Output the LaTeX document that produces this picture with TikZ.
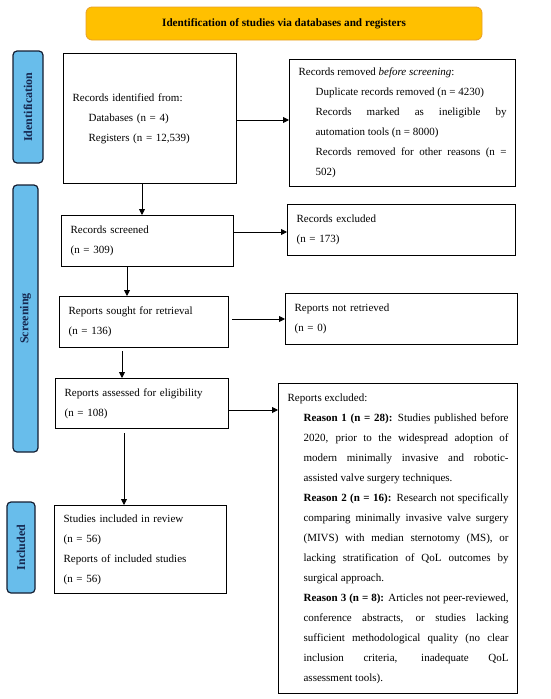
\documentclass[tikz,border=0pt]{standalone}
\usepackage{fontspec}
\setmainfont{Liberation Serif}
\usetikzlibrary{arrows.meta}
\setlength\parindent{0pt}
\definecolor{sideblue}{RGB}{104,189,235}
\definecolor{sidetext}{RGB}{22,40,80}
\definecolor{sideedge}{RGB}{20,30,50}
\definecolor{titlefill}{RGB}{255,192,0}
\definecolor{titledraw}{RGB}{232,160,40}
\begin{document}
\begin{tikzpicture}[x=1pt,y=-1pt,
  box/.style={draw=black, line width=1.2pt, anchor=north west, inner xsep=9pt, inner ysep=0pt,
    font=\fontsize{11}{20}\selectfont, align=left},
  jbox/.style={box, align=justify},
  side/.style={draw=sideedge, fill=sideblue, line width=1.2pt, rounded corners=4pt, rotate=90,
    inner sep=0pt, font=\fontsize{12}{13}\selectfont\bfseries, text=sidetext},
  titlebox/.style={draw=titledraw, fill=titlefill, line width=0.8pt, rounded corners=6pt,
    inner sep=0pt, font=\fontsize{11.2}{12}\selectfont\bfseries},
  arr/.style={line width=0.9pt, -{Triangle[length=6pt,width=6pt]}}]
\useasboundingbox (0,0) rectangle (550,699);

\node[titlebox, minimum width=396pt, minimum height=33pt] (title) at (284,23.5)
  {Identification of studies via databases and registers};

\node[side, minimum width=112pt, minimum height=30pt] (s1) at (28,107) {Identification};
\node[side, minimum width=267pt, minimum height=25pt] (s2) at (25.5,318.5) {Screening};
\node[side, minimum width=91pt, minimum height=28pt] (s3) at (21,547.5) {Included};

\node[box, minimum width=173pt, minimum height=130pt, text width=155pt] (ident) at (63,53)
  {Records identified from:\par\leftskip=16pt Databases (n = 4)\par Registers (n = 12,539)\par};
\node[jbox, minimum width=226pt, minimum height=127pt, text width=208pt] (rem) at (289,59)
  {Records removed \textit{before screening}:\par\leftskip=17pt Duplicate records removed (n = 4230)\par
   Records marked as ineligible by\linebreak automation tools (n = 8000)\par
   Records removed for other reasons (n =\linebreak 502)\par};
\node[box, minimum width=172pt, minimum height=51pt, text width=154pt] (scr) at (61,215)
  {Records screened\par (n = 309)};
\node[box, minimum width=228pt, minimum height=51pt, text width=210pt] (exc) at (287,204)
  {Records excluded\par (n = 173)};
\node[box, minimum width=169pt, minimum height=51pt, text width=151pt] (sought) at (59,296)
  {Reports sought for retrieval\par (n = 136)};
\node[box, minimum width=232pt, minimum height=51pt, text width=214pt] (notret) at (285,293)
  {Reports not retrieved\par (n = 0)};
\node[box, minimum width=173pt, minimum height=50pt, text width=155pt] (assess) at (55,378)
  {Reports assessed for eligibility\par (n = 108)};
\node[jbox, minimum width=239pt, minimum height=310pt, text width=221pt] (repexc) at (278,383)
  {Reports excluded:\par\leftskip=16pt
   \textbf{Reason 1 (n = 28):} Studies published before\linebreak
   2020, prior to the widespread adoption of\linebreak
   modern minimally invasive and robotic-\linebreak
   assisted valve surgery techniques.\par
   \textbf{Reason 2 (n = 16):} Research not specifically\linebreak
   comparing minimally invasive valve surgery\linebreak
   (MIVS) with median sternotomy (MS), or\linebreak
   lacking stratification of QoL outcomes by\linebreak
   surgical approach.\par
   \textbf{Reason 3 (n = 8):} Articles not peer-reviewed,\linebreak
   conference abstracts, or studies lacking\linebreak
   sufficient methodological quality (no clear\linebreak
   inclusion criteria, inadequate QoL\linebreak
   assessment tools).\par};
\node[box, minimum width=172pt, minimum height=88pt, text width=154pt] (incl) at (54,505)
  {Studies included in review\par (n = 56)\par Reports of included studies\par (n = 56)};

\coordinate (v1) at (142,0);
\coordinate (v2) at (127,0);
\coordinate (v3) at (122,0);
\coordinate (v4) at (124,0);
\coordinate (h1) at (0,120);
\coordinate (h2) at (0,232);
\coordinate (h3) at (0,319);
\coordinate (h4) at (0,410);

\draw[arr] (ident.south -| v1) -- (scr.north -| v1);
\draw[arr] (scr.south -| v2) -- (sought.north -| v2);
\draw[arr, shorten <=3pt] (sought.south -| v3) -- (assess.north -| v3);
\draw[arr, shorten <=4pt] (assess.south -| v4) -- (incl.north -| v4);
\draw[arr] (ident.east |- h1) -- (rem.west |- h1);
\draw[arr] (scr.east |- h2) -- (exc.west |- h2);
\draw[arr, shorten <=3pt] (sought.east |- h3) -- (notret.west |- h3);
\draw[arr] (assess.east |- h4) -- (repexc.west |- h4);
\end{tikzpicture}
\end{document}
